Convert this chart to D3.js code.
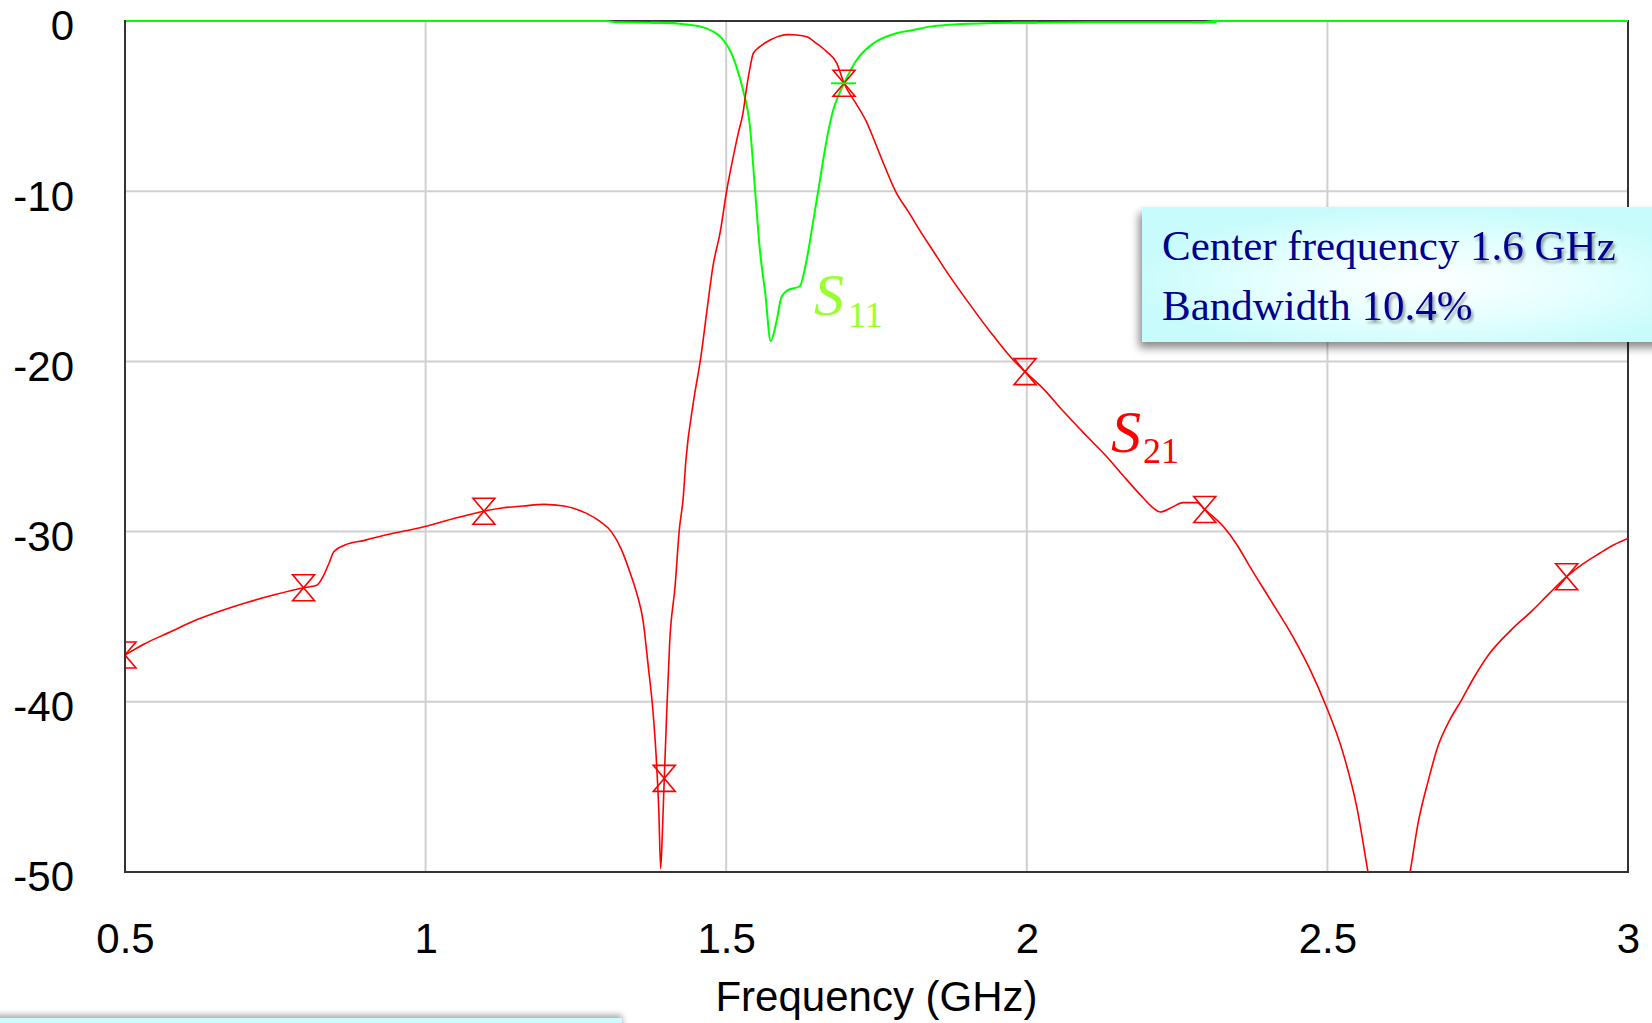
<!DOCTYPE html>
<html>
<head>
<meta charset="utf-8">
<script src="https://cdn.jsdelivr.net/npm/d3@7"></script>
<style>
  html, body { margin: 0; padding: 0; background: #ffffff; overflow: hidden; }
  svg { display: block; }
</style>
</head>
<body>
<svg id="chart" width="1652" height="1023"></svg>
<script>
// ---------------- DATA ----------------
const xTicks = [0.5, 1, 1.5, 2, 2.5, 3];
const xTickLabels = ["0.5", "1", "1.5", "2", "2.5", "3"];
const yTicks = [0, -10, -20, -30, -40, -50];
const yTickLabels = ["0", "-10", "-20", "-30", "-40", "-50"];
const xTitle = "Frequency (GHz)";

// S21 (dB) vs frequency (GHz)
const s21Freq = [0.50, 0.532, 0.575, 0.618, 0.66, 0.704, 0.75, 0.797, 0.819, 0.830, 0.840, 0.847, 0.865, 0.90, 0.933, 0.999, 1.05, 1.097, 1.13, 1.162, 1.197, 1.23, 1.266, 1.29, 1.309, 1.325, 1.340, 1.351, 1.362, 1.370, 1.379, 1.384, 1.388, 1.391, 1.394, 1.397, 1.401, 1.406, 1.415, 1.422, 1.4285, 1.433, 1.445, 1.458, 1.468, 1.478, 1.490, 1.501, 1.511, 1.520, 1.528, 1.534, 1.540, 1.545, 1.556, 1.573, 1.589, 1.603, 1.617, 1.634, 1.650, 1.667, 1.684, 1.696, 1.715, 1.733, 1.745, 1.762, 1.783, 1.803, 1.822, 1.844, 1.87, 1.90, 1.94, 1.977, 1.997, 2.03, 2.06, 2.10, 2.133, 2.16, 2.193, 2.21, 2.222, 2.24, 2.26, 2.283, 2.296, 2.327, 2.35, 2.371, 2.405, 2.443, 2.471, 2.496, 2.526, 2.549, 2.568, 2.585, 2.60, 2.62, 2.637, 2.651, 2.668, 2.684, 2.703, 2.723, 2.745, 2.770, 2.805, 2.842, 2.87, 2.898, 2.925, 2.953, 2.975, 3.00];
const s21dB = [-37.25, -36.6, -35.9, -35.2, -34.65, -34.15, -33.7, -33.3, -33.15, -32.6, -31.8, -31.2, -30.8, -30.5, -30.2, -29.7, -29.2, -28.8, -28.6, -28.5, -28.4, -28.5, -28.9, -29.4, -30.0, -31.0, -32.4, -33.6, -35.3, -37.8, -40.9, -43.5, -46.5, -49.8, -47.5, -44.5, -40.7, -36.5, -33.2, -29.9, -28.0, -25.8, -22.5, -19.7, -17.0, -14.4, -12.4, -9.93, -8.1, -6.6, -5.4, -3.9, -2.68, -1.90, -1.51, -1.12, -0.88, -0.80, -0.82, -0.92, -1.31, -1.80, -2.49, -3.66, -4.8, -5.9, -6.9, -8.4, -10.1, -11.2, -12.3, -13.5, -14.9, -16.4, -18.3, -19.9, -20.6, -21.7, -22.9, -24.4, -25.6, -26.7, -28.0, -28.6, -28.85, -28.6, -28.3, -28.3, -28.7, -29.7, -30.8, -32.06, -34.0, -36.2, -38.1, -40.1, -43.0, -46.2, -50.1, -53.5, -55.0, -53.0, -50.1, -47.1, -44.6, -42.6, -41.1, -39.9, -38.5, -37.15, -35.8, -34.6, -33.6, -32.65, -31.9, -31.27, -30.8, -30.4];

// S11 (dB) vs frequency (GHz)
const s11Freq = [0.50, 1.30, 1.32, 1.38, 1.418, 1.45, 1.467, 1.48, 1.49, 1.50, 1.506, 1.517, 1.528, 1.5395, 1.548, 1.556, 1.565, 1.574, 1.584, 1.592, 1.603, 1.622, 1.634, 1.645, 1.656, 1.667, 1.678, 1.689, 1.696, 1.717, 1.745, 1.783, 1.811, 1.839, 1.87, 1.92, 2.0, 2.1, 2.2, 2.29, 2.31, 3.00];
const s11dB = [0, 0, -0.08, -0.1, -0.14, -0.28, -0.43, -0.65, -0.92, -1.35, -1.7, -2.68, -4.05, -6.2, -9.93, -13.45, -16.0, -18.8, -17.6, -16.2, -15.8, -15.6, -14.0, -11.7, -9.34, -7.0, -5.23, -4.2, -3.66, -2.29, -1.31, -0.72, -0.53, -0.33, -0.22, -0.14, -0.1, -0.08, -0.08, -0.08, 0, 0];

// marker positions
const markerFreq = [0.5, 0.797, 1.097, 1.397, 1.696, 1.997, 2.296, 2.597, 2.898];
const s21MarkerDB = [-37.25, -33.3, -28.8, -44.5, -3.66, -20.6, -28.7, -55.0, -32.65];
const s11MarkerDB = [0, 0, 0, -0.1, -3.66, -0.1, -0.08, 0, 0];

const noteLine1 = ["Center frequency", "1.6 GHz"];
const noteLine2 = ["Bandwidth", "10.4%"];

// ---------------- LAYOUT ----------------
const svg = d3.select("#chart");
const L = 125, R = 1628, T = 21, B = 872;
const x = d3.scaleLinear().domain([0.5, 3]).range([L, R]);
const y = d3.scaleLinear().domain([0, -50]).range([T, B]);

const defs = svg.append("defs");
defs.append("clipPath").attr("id", "plotClip")
  .append("rect").attr("x", L + 1).attr("y", T - 3).attr("width", R - L - 1).attr("height", B - T + 3);

const rg = defs.append("radialGradient").attr("id", "boxGrad")
  .attr("cx", "0.52").attr("cy", "0.55").attr("r", "0.55");
rg.append("stop").attr("offset", "0%").attr("stop-color", "#ffffff");
rg.append("stop").attr("offset", "55%").attr("stop-color", "#e4ffff");
rg.append("stop").attr("offset", "100%").attr("stop-color", "#c8fbfb");

const sh = defs.append("filter").attr("id", "boxShadow").attr("x", "-10%").attr("y", "-20%").attr("width", "130%").attr("height", "150%");
sh.append("feDropShadow").attr("dx", -3).attr("dy", 6).attr("stdDeviation", 4)
  .attr("flood-color", "#000").attr("flood-opacity", 0.45);

const tsh = defs.append("filter").attr("id", "textShadow").attr("x", "-10%").attr("y", "-20%").attr("width", "130%").attr("height", "150%");
tsh.append("feDropShadow").attr("dx", 2).attr("dy", 3).attr("stdDeviation", 1.5)
  .attr("flood-color", "#000").attr("flood-opacity", 0.4);

const bsh = defs.append("filter").attr("id", "stripShadow").attr("x", "-5%").attr("y", "-200%").attr("width", "110%").attr("height", "400%");
bsh.append("feDropShadow").attr("dx", 0).attr("dy", -3).attr("stdDeviation", 3)
  .attr("flood-color", "#000").attr("flood-opacity", 0.35);

// ---------------- GRID ----------------
const grid = svg.append("g");
grid.selectAll("line.vg").data(xTicks.filter(d => d > 0.5 && d < 3)).join("line")
  .attr("x1", d => x(d)).attr("x2", d => x(d)).attr("y1", T).attr("y2", B)
  .attr("stroke", "#d0d0d0").attr("stroke-width", 2);
grid.selectAll("line.hg").data(yTicks.filter(d => d < 0 && d > -50)).join("line")
  .attr("x1", L).attr("x2", R).attr("y1", d => y(d)).attr("y2", d => y(d))
  .attr("stroke", "#d0d0d0").attr("stroke-width", 2);

// ---------------- FRAME ----------------
svg.append("rect").attr("x", L).attr("y", T).attr("width", R - L).attr("height", B - T)
  .attr("fill", "none").attr("stroke", "#333333").attr("stroke-width", 2);

// ---------------- AXES ----------------
const yAxis = svg.append("g").attr("transform", `translate(${L},0)`)
  .call(d3.axisLeft(y).tickValues(yTicks).tickSize(0).tickPadding(51)
    .tickFormat((d, i) => yTickLabels[i]));
yAxis.select(".domain").remove();
yAxis.selectAll("text").attr("dy", "0.45em")
  .style("font-family", "'Liberation Sans', Arial, sans-serif").style("font-size", "42px").attr("fill", "#000");

const xAxis = svg.append("g").attr("transform", `translate(0,${B})`)
  .call(d3.axisBottom(x).tickValues(xTicks).tickSize(0).tickPadding(51)
    .tickFormat((d, i) => xTickLabels[i]));
xAxis.select(".domain").remove();
xAxis.selectAll("text")
  .style("font-family", "'Liberation Sans', Arial, sans-serif").style("font-size", "42px").attr("fill", "#000");

svg.append("text").attr("x", (L + R) / 2).attr("y", 1011).attr("text-anchor", "middle")
  .style("font-family", "'Liberation Sans', Arial, sans-serif").style("font-size", "42px")
  .attr("fill", "#000").text(xTitle);

// ---------------- CURVES ----------------
const plot = svg.append("g").attr("clip-path", "url(#plotClip)");
const line = d3.line().x(d => x(d[0])).y(d => y(d[1])).curve(d3.curveMonotoneX);

const s11Data = s11Freq.map((f, i) => [f, s11dB[i]]);
const s21Data = s21Freq.map((f, i) => [f, s21dB[i]]);

plot.append("path").datum(s11Data).attr("d", line)
  .attr("fill", "none").attr("stroke", "#00ff00").attr("stroke-width", 2);
plot.append("path").datum(s21Data).attr("d", line)
  .attr("fill", "none").attr("stroke", "#ff0000").attr("stroke-width", 1.6);

// hourglass markers for S21
const hg = "M-11,-13 L11,-13 L-11,13 L11,13 Z";
plot.selectAll("path.m21").data(markerFreq.map((f, i) => [f, s21MarkerDB[i]])).join("path")
  .attr("class", "m21")
  .attr("transform", d => `translate(${x(d[0])},${y(d[1])})`)
  .attr("d", hg).attr("fill", "none").attr("stroke", "#ff0000").attr("stroke-width", 1.6);

// bar markers for S11
plot.selectAll("line.m11").data(markerFreq.map((f, i) => [f, s11MarkerDB[i]])).join("line")
  .attr("class", "m11")
  .attr("x1", d => x(d[0]) - 13).attr("x2", d => x(d[0]) + 12)
  .attr("y1", d => y(d[1])).attr("y2", d => y(d[1]))
  .attr("stroke", "#00ff00").attr("stroke-width", 2);

// ---------------- SERIES LABELS ----------------
const serif = "'Liberation Serif', 'Times New Roman', serif";
function seriesLabel(sx, sy, sub, subx, suby, color) {
  svg.append("text").attr("x", sx).attr("y", sy).attr("fill", color)
    .style("font-family", serif).style("font-style", "italic").style("font-size", "60px").text("S");
  svg.append("text").attr("x", subx).attr("y", suby).attr("fill", color)
    .style("font-family", serif).style("font-size", "36px").text(sub);
}
seriesLabel(814, 315, "11", 848, 327, "#99ff33");
seriesLabel(1111, 452, "21", 1143, 463, "#ff0000");

// ---------------- NOTE BOX ----------------
svg.append("rect").attr("x", 1142).attr("y", 207).attr("width", 540).attr("height", 135)
  .attr("fill", "url(#boxGrad)").attr("filter", "url(#boxShadow)");

function noteLine(parts, bx, by) {
  const t1 = svg.append("text").attr("x", bx).attr("y", by).attr("fill", "#00008f")
    .style("font-family", serif).style("font-size", "43px").text(parts[0]);
  const w = t1.node().getComputedTextLength();
  svg.append("text").attr("x", bx + w + 10.8).attr("y", by).attr("fill", "#00008f")
    .attr("filter", "url(#textShadow)")
    .style("font-family", serif).style("font-size", "43px").text(parts[1]);
}
noteLine(noteLine1, 1162, 260);
noteLine(noteLine2, 1162, 320);

// ---------------- BOTTOM STRIP ----------------
svg.append("rect").attr("x", -10).attr("y", 1018).attr("width", 632).attr("height", 20)
  .attr("fill", "#ccfcfc").attr("filter", "url(#stripShadow)");
</script>
</body>
</html>
